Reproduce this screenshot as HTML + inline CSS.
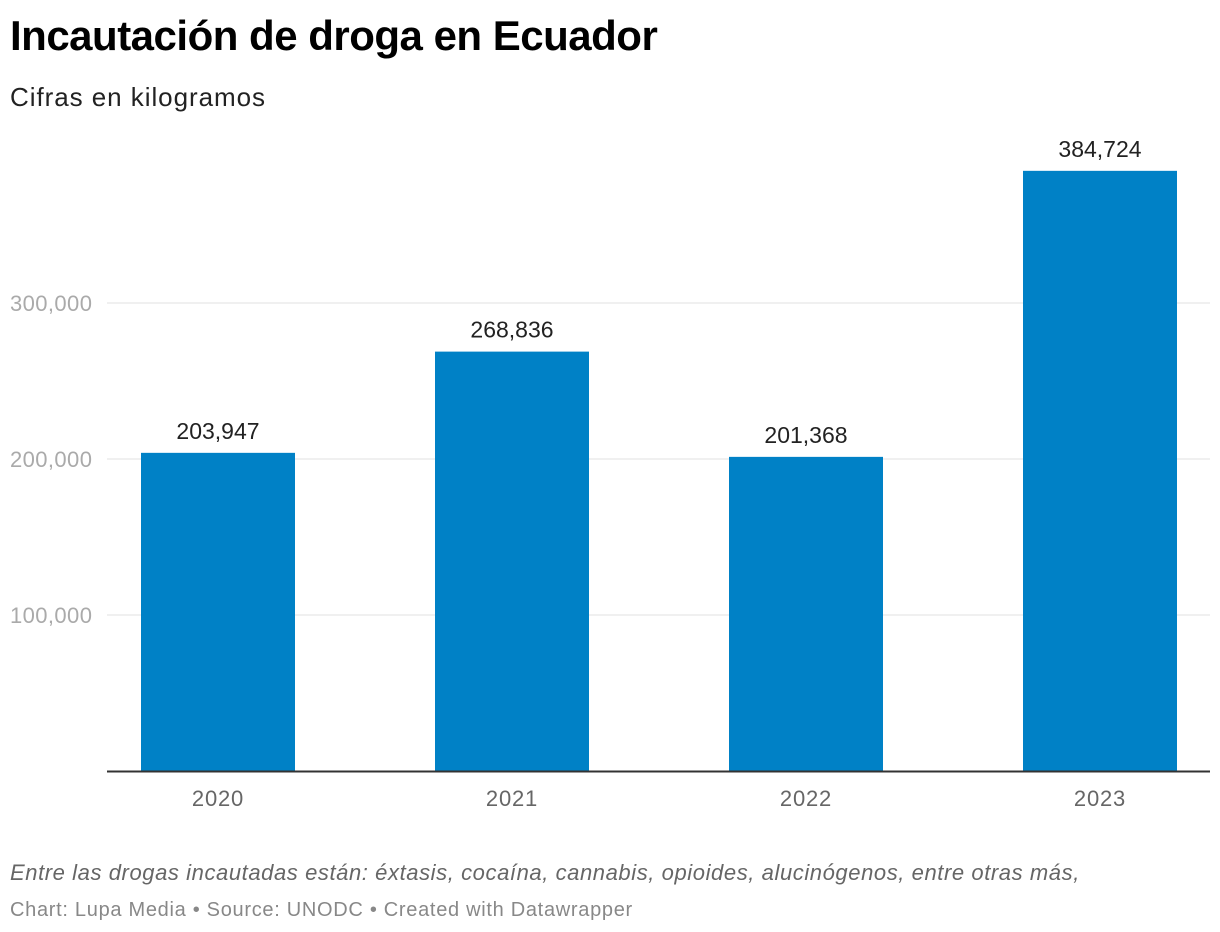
<!DOCTYPE html>
<html><head><meta charset="utf-8"><style>
body{margin:0;width:1220px;height:932px;background:#fff;font-family:"Liberation Sans",sans-serif;overflow:hidden;position:relative}
.t{position:absolute;white-space:nowrap}
</style></head><body>
<div class="t" style="left:10px;top:12px;font-size:42px;font-weight:bold;color:#000;letter-spacing:-0.5px">Incautación de droga en Ecuador</div>
<div class="t" style="left:10px;top:82px;font-size:26px;color:#222;letter-spacing:0.95px">Cifras en kilogramos</div>
<svg id="chart" width="1220" height="840" style="position:absolute;left:0;top:0"></svg>
<div class="t" style="left:10px;top:860px;font-size:22px;font-style:italic;color:#666;letter-spacing:0.58px">Entre las drogas incautadas están: éxtasis, cocaína, cannabis, opioides, alucinógenos, entre otras más,</div>
<div class="t" style="left:10px;top:899px;font-size:20px;color:#888;letter-spacing:0.7px">Chart: Lupa Media • Source: UNODC • Created with Datawrapper</div>
<script>
const categories=["2020","2021","2022","2023"];
const values=[203947,268836,201368,384724];
const valueLabels=["203,947","268,836","201,368","384,724"];
const ticks=[100000,200000,300000];
const tickLabels=["100,000","200,000","300,000"];
const svg=document.getElementById('chart');
const NS='http://www.w3.org/2000/svg';
const y=v=>771-v*0.00156;
const xc=i=>218+i*294;
const bw=154;
function mk(tag,attrs,text){const e=document.createElementNS(NS,tag);for(const k in attrs)e.setAttribute(k,attrs[k]);if(text!=null)e.textContent=text;svg.appendChild(e);return e;}
ticks.forEach((t,i)=>{
  const l=mk('line',{x1:107,x2:1210,y1:y(t),y2:y(t),stroke:'#e0e0e0','stroke-width':1});
  
  
  const tx=mk('text',{x:10,y:y(t)+8,'font-size':22,'letter-spacing':0.4,fill:'#aaa','font-family':'Liberation Sans, sans-serif'},tickLabels[i]);
  
  
});
values.forEach((v,i)=>{
  const r=mk('rect',{x:xc(i)-bw/2,y:y(v),width:bw,height:771-y(v),fill:'#0081c6'});
  
  
  const vl=mk('text',{x:xc(i),y:y(v)-14,'text-anchor':'middle','font-size':23,fill:'#222','font-family':'Liberation Sans, sans-serif'},valueLabels[i]);
  
  
  const xl=mk('text',{x:xc(i),y:806,'text-anchor':'middle','font-size':22,'letter-spacing':0.8,fill:'#666','font-family':'Liberation Sans, sans-serif'},categories[i]);
  
  
});
const ax=mk('line',{x1:107,x2:1210,y1:771.5,y2:771.5,stroke:'#333','stroke-width':2});


</script>
</body></html>
